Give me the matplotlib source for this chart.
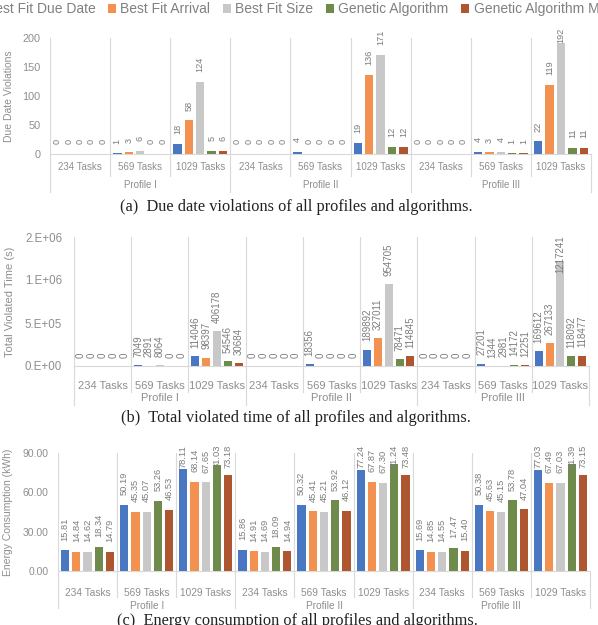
import matplotlib.pyplot as plt
from matplotlib.transforms import Bbox, TransformedBbox, blended_transform_factory
from matplotlib.patches import Patch

plt.rcParams['font.family'] = ['Liberation Sans', 'DejaVu Sans']

# series and categories
algorithms = ['Best Fit Due Date', 'Best Fit Arrival', 'Best Fit Size',
              'Genetic Algorithm', 'Genetic Algorithm Modified']
colors = ['#4a77c1', '#f39150', '#c8c8c8', '#6f8b4b', '#ad5630']
task_labels = ['234 Tasks', '569 Tasks', '1029 Tasks']
profiles = ['Profile I', 'Profile II', 'Profile III']

# (a) due date violations, one list per algorithm (9 values: profile x tasks)
viol_bfdd = [0, 1, 18, 0, 4, 19, 0, 4, 22]
viol_bfa = [0, 3, 58, 0, 0, 136, 0, 3, 119]
viol_bfs = [0, 6, 124, 0, 0, 171, 0, 4, 192]
viol_ga = [0, 0, 5, 0, 0, 12, 0, 1, 11]
viol_gam = [0, 0, 6, 0, 0, 12, 0, 1, 11]

# (b) total violated time (s)
time_bfdd = [0, 7049, 114046, 0, 18356, 189892, 0, 27201, 169612]
time_bfa = [0, 2891, 98397, 0, 0, 327011, 0, 1344, 267133]
time_bfs = [0, 8064, 406178, 0, 0, 954705, 0, 2981, 1217241]
time_ga = [0, 0, 54546, 0, 0, 78471, 0, 14172, 118092]
time_gam = [0, 0, 30684, 0, 0, 114845, 0, 12251, 118477]

# (c) energy consumption (kWh)
energy_bfdd = [15.81, 50.19, 78.11, 15.86, 50.32, 77.24, 15.69, 50.38, 77.03]
energy_bfa = [14.84, 45.35, 68.14, 14.91, 45.41, 67.87, 14.85, 45.63, 67.49]
energy_bfs = [14.62, 45.07, 67.65, 14.69, 45.21, 67.30, 14.55, 45.15, 67.03]
energy_ga = [18.34, 53.26, 81.03, 18.09, 53.92, 81.24, 17.47, 53.78, 81.39]
energy_gam = [14.79, 46.53, 73.18, 14.94, 46.12, 73.48, 15.40, 47.04, 73.15]

W, H = 598, 625
DPI = 100
fig = plt.figure(figsize=(W / DPI, H / DPI), dpi=DPI)

txt_gray = '#8e8e8e'
lbl_gray = '#7c7c7c'
line_gray = '#d9d9d9'

labels_to_fit = []


def add_axes_px(left, right, top, bottom):
    return fig.add_axes([left / W, 1 - bottom / H, (right - left) / W, (bottom - top) / H])


def draw_panel(ax, series, ymax, yticks, yticklabels, ylabel, fmt, cfg):
    n = len(series[0])
    pitch, width = 0.19, 0.14
    ax_h = ax.get_position().height * H
    shift_top = 1 + cfg['shift_margin'] / ax_h
    clip_top = 1 + cfg['clip_margin'] / ax_h
    for k, vals in enumerate(series):
        xs = [i + (k - 2) * pitch for i in range(n)]
        ax.bar(xs, vals, width=width, color=colors[k], zorder=3)
        for x, v in zip(xs, vals):
            t = ax.annotate(fmt(v), (x, v), xytext=(0, cfg['gap']), textcoords='offset points',
                            rotation=90, ha='center', va='bottom', fontsize=cfg['lblsize'],
                            color=lbl_gray, zorder=4)
            t.set_clip_box(TransformedBbox(Bbox([[-0.1, -0.5], [1.1, clip_top]]), ax.transAxes))
            t.set_clip_on(True)
            labels_to_fit.append((t, ax, shift_top, cfg['gap']))
    ax.set_xlim(-0.5, n - 0.5)
    ax.set_ylim(0, ymax)
    ax.set_yticks(yticks)
    ax.set_yticklabels(yticklabels)
    ax.set_xticks(range(n))
    ax.set_xticklabels(task_labels * 3)
    ax.tick_params(axis='y', length=0, pad=cfg['ypad'], labelsize=cfg['yticksize'], labelcolor=txt_gray)
    ax.tick_params(axis='x', length=0, pad=cfg['xpad'], labelsize=cfg['xticksize'], labelcolor=txt_gray)
    for s in ['top', 'right', 'left']:
        ax.spines[s].set_visible(False)
    ax.spines['bottom'].set_color(line_gray)
    ax.spines['bottom'].set_linewidth(0.8)
    ax.set_ylabel(ylabel, color=txt_gray, fontsize=cfg['ylabelsize'])
    ax.yaxis.set_label_coords(cfg['ylabelx'], 0.5)

    trans = blended_transform_factory(ax.transData, ax.transAxes)
    for b in range(n + 1):
        xb = b - 0.5
        ax.plot([xb, xb], [0, 1], color=line_gray, lw=0.8, transform=trans, zorder=1)
        low = cfg['prof_low'] if b % 3 == 0 else cfg['cat_low']
        ax.plot([xb, xb], [0, low], color=line_gray, lw=0.8, transform=trans, clip_on=False)
    for p, name in enumerate(profiles):
        ax.text(3 * p + 1, cfg['prof_y'], name, transform=trans, ha='center', va='center',
                fontsize=cfg['xticksize'], color=txt_gray)


# (a)
ax_a = add_axes_px(50, 591, 38, 154)
draw_panel(ax_a, [viol_bfdd, viol_bfa, viol_bfs, viol_ga, viol_gam], 200,
           [0, 50, 100, 150, 200], ['0', '50', '100', '150', '200'],
           'Due Date Violations', lambda v: '%d' % v,
           dict(gap=7, lblsize=6.6, ypad=7, yticksize=7.8, xpad=6, xticksize=7,
                ylabelsize=7.5, ylabelx=-0.067, prof_low=-0.33, cat_low=-0.19, prof_y=-0.267,
                shift_margin=10, clip_margin=10))

# (b)
ax_b = add_axes_px(74, 589, 237, 366)
draw_panel(ax_b, [time_bfdd, time_bfa, time_bfs, time_ga, time_gam], 1.5e6,
           [0, 5e5, 1e6, 1.5e6], ['0.E+00', '5.E+05', '1.E+06', '2.E+06'],
           'Total Violated Time (s)', lambda v: '%d' % v,
           dict(gap=6, lblsize=7, ypad=8.5, yticksize=8.3, xpad=11, xticksize=8,
                ylabelsize=8, ylabelx=-0.115, prof_low=-0.3, cat_low=-0.2, prof_y=-0.245,
                shift_margin=2, clip_margin=3))

# (c)
ax_c = add_axes_px(58, 590, 453, 571)
draw_panel(ax_c, [energy_bfdd, energy_bfa, energy_bfs, energy_ga, energy_gam], 90,
           [0, 30, 60, 90], ['0.00', '30.00', '60.00', '90.00'],
           'Energy Consumption (kWh)', lambda v: '%.2f' % v,
           dict(gap=7, lblsize=6.7, ypad=7, yticksize=7.5, xpad=12, xticksize=7.3,
                ylabelsize=7.5, ylabelx=-0.085, prof_low=-0.31, cat_low=-0.22, prof_y=-0.297,
                shift_margin=8, clip_margin=6))

# push labels that would run above the chart area back down (as the spreadsheet does)
fig.canvas.draw()
renderer = fig.canvas.get_renderer()
for t, ax, shift_top, gap in labels_to_fit:
    limit = ax.transAxes.transform((0, shift_top))[1]
    top = t.get_window_extent(renderer).y1
    if top > limit:
        t.xyann = (0, gap - (top - limit) * 72 / DPI)

# legend (runs past the figure edges as in the original)
handles = [Patch(facecolor=c, edgecolor='none') for c in colors]
fig.legend(handles, algorithms, loc='center left', bbox_to_anchor=(-0.045, 1 - 9 / H), ncol=5,
           frameon=False, fontsize=10, labelcolor='#808080', handlelength=0.6, handleheight=0.6,
           handletextpad=0.3, columnspacing=0.9, borderpad=0, borderaxespad=0)

# captions
cap = dict(ha='center', va='center', fontsize=11.8, family='Liberation Serif', color='#222222')
fig.text(0.495, 1 - 207 / H, '(a)  Due date violations of all profiles and algorithms.', **cap)
fig.text(0.495, 1 - 418 / H, '(b)  Total violated time of all profiles and algorithms.', **cap)
fig.text(0.497, 1 - 621 / H, '(c)  Energy consumption of all profiles and algorithms.', **cap)

fig.savefig('out.png', dpi=DPI)
